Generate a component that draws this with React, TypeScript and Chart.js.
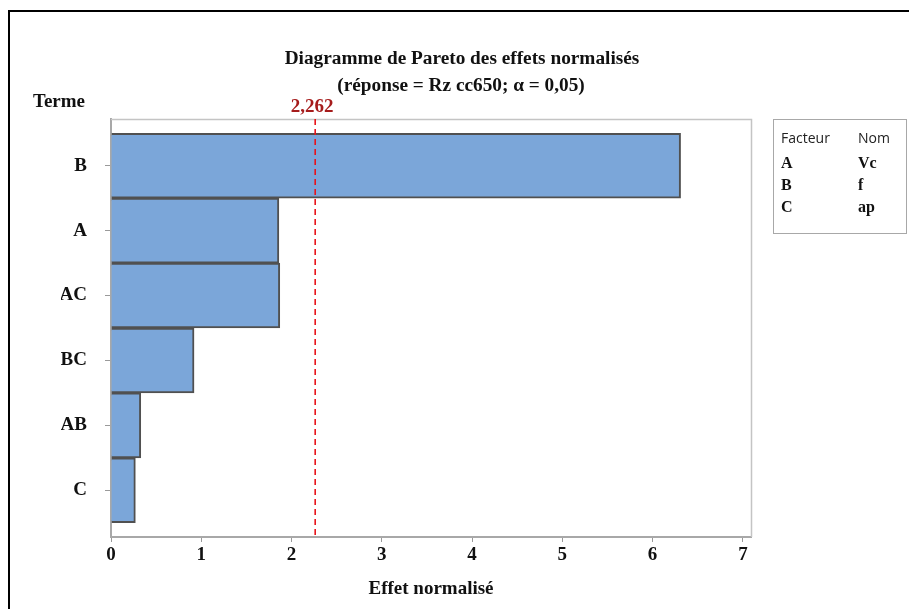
import React, { useEffect, useRef } from 'react';
import { Chart, registerables } from 'chart.js';

Chart.register(...registerables);

// ---- data ----
const terms = ['B', 'A', 'AC', 'BC', 'AB', 'C'];
const effects = [6.31, 1.86, 1.87, 0.92, 0.33, 0.27];
const xTickValues = [0, 1, 2, 3, 4, 5, 6, 7];
const threshold = 2.262;
const thresholdLabel = '2,262';
const factorCodes = ['A', 'B', 'C'];
const factorNames = ['Vc', 'f', 'ap'];
const titleLines = ['Diagramme de Pareto des effets normalisés', '(réponse = Rz cc650; α = 0,05)'];
const yAxisTitle = 'Terme';
const xAxisTitle = 'Effet normalisé';
const legendHeaders = ['Facteur', 'Nom'];

const SERIF = '"Liberation Serif", "Times New Roman", serif';
const SANS = '"Open Sans", "Noto Sans", sans-serif';

const decorPlugin = {
  id: 'decor',
  afterDraw(chart: any) {
    const ctx = chart.ctx as CanvasRenderingContext2D;
    const area = chart.chartArea;
    const xs = chart.scales.x;
    ctx.save();

    // plot box top & right border
    ctx.strokeStyle = '#c4c4c4';
    ctx.lineWidth = 1.5;
    ctx.beginPath();
    ctx.moveTo(area.left, area.top + 0.5);
    ctx.lineTo(area.right + 0.5, area.top + 0.5);
    ctx.lineTo(area.right + 0.5, area.bottom);
    ctx.stroke();

    // threshold line
    const tx = xs.getPixelForValue(threshold);
    ctx.strokeStyle = '#e8141a';
    ctx.lineWidth = 1.6;
    ctx.setLineDash([6, 4]);
    ctx.beginPath();
    ctx.moveTo(tx, area.top);
    ctx.lineTo(tx, area.bottom);
    ctx.stroke();
    ctx.setLineDash([]);

    // texts
    ctx.fillStyle = '#111';
    ctx.textBaseline = 'alphabetic';
    ctx.font = `bold 19.3px ${SERIF}`;
    ctx.textAlign = 'center';
    ctx.fillText(titleLines[0], 462, 64);
    ctx.fillText(titleLines[1], 461, 91);
    ctx.font = `bold 19px ${SERIF}`;
    ctx.textAlign = 'left';
    ctx.fillText(yAxisTitle, 33, 107);
    ctx.textAlign = 'center';
    ctx.fillText(xAxisTitle, (area.left + area.right) / 2, 594);

    ctx.fillStyle = '#a61c1c';
    ctx.fillText(thresholdLabel, tx - 3, 111.5);

    // legend box
    ctx.strokeStyle = '#a8a8a8';
    ctx.lineWidth = 1;
    ctx.strokeRect(773.5, 119.5, 133, 114);
    ctx.fillStyle = '#222';
    ctx.textAlign = 'left';
    ctx.font = `14px ${SANS}`;
    ctx.fillText(legendHeaders[0], 781, 143);
    ctx.fillText(legendHeaders[1], 858, 143);
    ctx.fillStyle = '#111';
    ctx.font = `bold 16px ${SERIF}`;
    factorCodes.forEach((c, i) => {
      const y = 168 + i * 22;
      ctx.fillText(c, 781, y);
      ctx.fillText(factorNames[i], 858, y);
    });

    // outer frame
    ctx.strokeStyle = '#000';
    ctx.lineWidth = 2;
    ctx.beginPath();
    ctx.moveTo(9, 609);
    ctx.lineTo(9, 11);
    ctx.lineTo(909, 11);
    ctx.stroke();

    ctx.restore();
  },
};

export default function App() {
  const ref = useRef<HTMLCanvasElement | null>(null);

  useEffect(() => {
    if (!ref.current) return;
    const chart = new Chart(ref.current, {
      type: 'bar',
      data: {
        datasets: [
          {
            data: effects.map((v, i) => ({ x: v, y: i })) as any,
            backgroundColor: '#7ba6d9',
            borderColor: '#505050',
            borderWidth: 2,
            barPercentage: 1,
            categoryPercentage: 1,
          },
        ],
      },
      options: {
        indexAxis: 'y',
        responsive: false,
        animation: false,
        layout: { padding: { left: 61, top: 119, right: 158, bottom: 32 } },
        plugins: { legend: { display: false }, tooltip: { enabled: false }, title: { display: false } },
        scales: {
          x: {
            type: 'linear',
            min: 0,
            max: 7.09,
            offset: false,
            afterBuildTicks: (s: any) => {
              s.ticks = xTickValues.map((v) => ({ value: v }));
            },
            ticks: {
              includeBounds: false,
              autoSkip: false,
              maxRotation: 0,
              padding: 2,
              color: '#111',
              font: { family: SERIF, size: 19, weight: 'bold' },
            },
            grid: { offset: false, drawOnChartArea: false, drawTicks: true, tickLength: 5, color: '#9a9a9a' },
            border: { display: true, color: '#a8a8a8', width: 2 },
            afterFit: (s: any) => {
              s.height = 40;
            },
          },
          y: {
            type: 'linear',
            min: -0.72,
            max: 5.72,
            reverse: true,
            offset: false,
            afterBuildTicks: (s: any) => {
              s.ticks = terms.map((_, i) => ({ value: i }));
            },
            ticks: {
              autoSkip: false,
              padding: 18,
              color: '#111',
              font: { family: SERIF, size: 19, weight: 'bold' },
              callback: (v: any) => terms[v as number] ?? '',
            },
            grid: { offset: false, drawOnChartArea: false, drawTicks: true, tickLength: 6, color: '#9a9a9a' },
            border: { display: true, color: '#a8a8a8', width: 2 },
            afterFit: (s: any) => {
              s.width = 50;
            },
          },
        },
      } as any,
      plugins: [decorPlugin],
    });
    return () => chart.destroy();
  }, []);

  return (
    <div style={{ position: 'fixed', left: 0, top: 0, width: 909, height: 609, background: '#fff' }}>
      <canvas ref={ref} width={909} height={609} style={{ display: 'block' }} />
    </div>
  );
}
